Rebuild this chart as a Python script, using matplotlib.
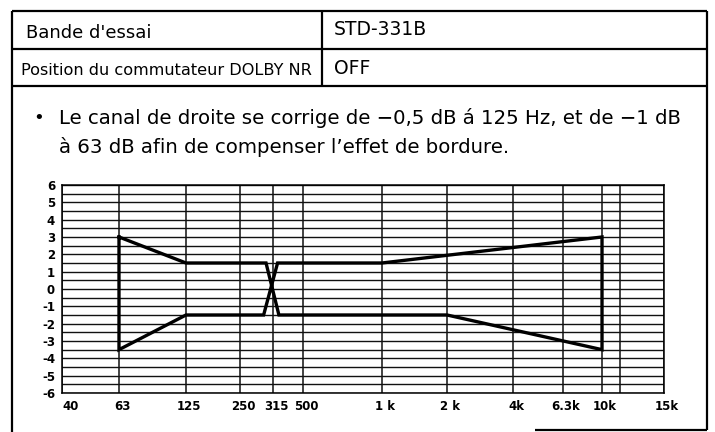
import numpy as np
import matplotlib
matplotlib.use("Agg")
import matplotlib.pyplot as plt
from matplotlib.lines import Line2D
from matplotlib.transforms import ScaledTranslation

# Frequency grid of the response chart (Hz) and their tick labels
grid_freqs = [40, 63, 125, 250, 315, 500, 1000, 2000, 4000, 6300, 10000, 12500, 15000]
tick_freqs = [40, 63, 125, 250, 315, 500, 1000, 2000, 4000, 6300, 10000, 15000]
tick_labels = ["40", "63", "125", "250", "315", "500", "1 k", "2 k", "4k", "6.3k", "10k", "15k"]
# Relative spacing of the printed frequency grid (chart paper layout)
grid_spacing = [0, 57, 124, 178, 211, 241, 320, 385, 451, 501, 540, 558, 602]

# Tolerance envelope (closed outline), frequency in Hz, level in dB
envelope_freq = [63, 125, 300, 345, 2000, 10000, 10000, 1000, 338, 295, 125, 63, 63]
envelope_db = [3.0, 1.5, 1.5, -1.5, -1.5, -3.5, 3.0, 1.5, 1.5, -1.5, -1.5, -3.5, 3.0]

y_ticks = list(range(-6, 7))

plt.rcParams["font.family"] = ["DejaVu Sans"]

fig = plt.figure(figsize=(7.15, 4.32), dpi=100)

# ---- header table and frame -------------------------------------------------
def fline(x0, y0, x1, y1, lw=1.6):
    fig.add_artist(Line2D([x0, x1], [y0, y1], transform=fig.transFigure,
                          color="black", lw=lw, solid_capstyle="butt"))

L, R, T = 0.0168, 0.9888, 0.9745
row1, row2 = 0.8866, 0.801
div = 0.4503
fline(L, T, R, T)
fline(L, row1, R, row1)
fline(L, row2, R, row2)
fline(div, T, div, row2)
fline(L, T, L, 0.0)
fline(R, T, R, 0.004)
fline(0.748, 0.004, R, 0.004)

fig.text(0.036, 0.924, "Bande d'essai", fontsize=13, va="center", ha="left")
fig.text(0.467, 0.932, "STD-331B", fontsize=13.5, va="center", ha="left")
fig.text(0.029, 0.836, "Position du commutateur DOLBY NR", fontsize=11.6, va="center", ha="left")
fig.text(0.467, 0.842, "OFF", fontsize=13.5, va="center", ha="left")

fig.text(0.047, 0.726, "\u2022", fontsize=13, va="center", ha="left")
fig.text(0.083, 0.726, "Le canal de droite se corrige de \u22120,5 dB \u00e1 125 Hz, et de \u22121 dB",
         fontsize=14.2, va="center", ha="left")
fig.text(0.083, 0.659, "\u00e0 63 dB afin de compenser l\u2019effet de bordure.",
         fontsize=14.2, va="center", ha="left")

# ---- response chart ---------------------------------------------------------
ax = fig.add_axes([0.0867, 0.0903, 0.842, 0.4815])

logf = np.log10(grid_freqs)
pos = np.array(grid_spacing, dtype=float)

def fwd(f):
    f = np.asarray(f, dtype=float)
    return np.interp(np.log10(np.clip(f, 1e-3, None)), logf, pos)

def inv(p):
    return 10 ** np.interp(np.asarray(p, dtype=float), pos, logf)

ax.set_xscale("function", functions=(fwd, inv))
ax.set_xlim(grid_freqs[0], grid_freqs[-1])
ax.set_ylim(-6, 6)

for f in grid_freqs:
    ax.axvline(f, color="#111111", lw=1.1, zorder=1)
for y in np.arange(-6, 6.01, 0.5):
    ax.axhline(y, color="#111111", lw=1.0, zorder=1)

ax.plot(envelope_freq, envelope_db, color="black", lw=2.4, zorder=3,
        solid_joinstyle="miter")

ax.set_xticks(tick_freqs)
ax.set_xticklabels(tick_labels, fontsize=8.5, fontweight="bold")
ax.set_xticks([], minor=True)
ax.set_yticks(y_ticks)
ax.set_yticklabels([str(v) for v in y_ticks], fontsize=8.5, fontweight="bold")
ax.tick_params(length=0, pad=5)
shift = ScaledTranslation(3 / 100, 0, fig.dpi_scale_trans)
xlabels = ax.get_xticklabels()
for lab in xlabels[1:]:
    lab.set_ha("center")
    lab.set_transform(lab.get_transform() + shift)
xlabels[0].set_ha("left")
for s in ax.spines.values():
    s.set_linewidth(1.1)

fig.savefig("out.png", dpi=100)
